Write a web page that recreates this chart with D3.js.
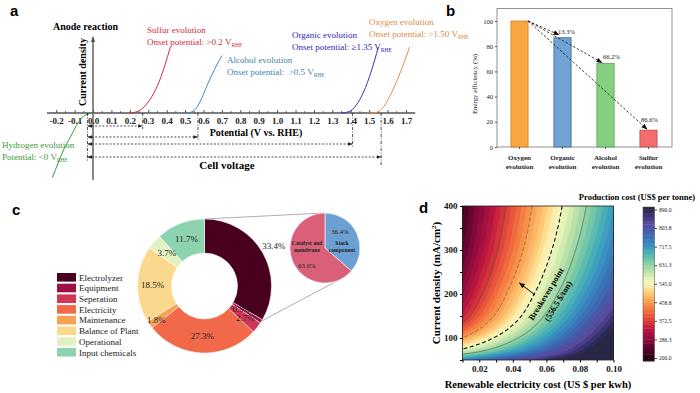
<!DOCTYPE html>
<html>
<head>
<meta charset="utf-8">
<title>Anode reactions - efficiency and cost</title>
<script src="https://cdn.jsdelivr.net/npm/d3@7/dist/d3.min.js"></script>
<style>
body { margin: 0; background: #fff; }
svg { font-family: "Liberation Serif", "Times New Roman", serif; }
.letter { font-family: "Liberation Sans", Arial, sans-serif; font-weight: bold; font-size: 15px; }
</style>
</head>
<body>
<svg id="fig" width="700" height="393"></svg>
<script>
// ---------- panel a : sketch of onset potentials
var potTicks = [-0.2, -0.1, 0.0, 0.1, 0.2, 0.3, 0.4, 0.5, 0.6, 0.7, 0.8, 0.9, 1.0, 1.1, 1.2, 1.3, 1.4, 1.5, 1.6, 1.7];
var sulfurCurve = [[0.20, 0], [0.24, 0.02], [0.28, 0.10], [0.32, 0.25], [0.36, 0.48], [0.39, 0.72], [0.42, 1.0]];
var alcoholCurve = [[0.50, 0], [0.53, 0.01], [0.56, 0.07], [0.59, 0.22], [0.62, 0.42], [0.66, 0.66], [0.70, 0.87]];
var organicCurve = [[1.35, 0], [1.39, 0.02], [1.43, 0.12], [1.47, 0.32], [1.51, 0.62], [1.55, 1.0]];
var oxygenCurve = [[1.50, 0], [1.54, 0.01], [1.58, 0.10], [1.62, 0.30], [1.66, 0.55], [1.69, 0.77], [1.72, 1.0]];
var hydrogenCurve = [[-0.22, -0.98], [-0.19, -0.76], [-0.16, -0.56], [-0.12, -0.35], [-0.09, -0.19], [-0.06, -0.07], [-0.03, -0.02], [0, 0]];
var reactionNames = ["Sulfur evolution", "Alcohol evolution", "Organic evolution", "Oxygen evolution", "Hydrogen evolution"];
var onsetTexts = ["Onset potential: >0.2 ", "Onset potential:  >0.5 ", "Onset potential: \u22651.35 ", "Onset potential: >1.50 ", "Potential: <0 "];
var cellStart = -0.03;
var cellEnds = [0.27, 0.57, 1.41, 1.565];

// ---------- panel b : energy efficiency
var effCats = ["Oxygen", "Organic", "Alcohol", "Sulfur"];
var effValues = [100, 86.7, 66.2, 13.4];
var effLabels = [null, "13.3%", "66.2%", "86.6%"];
var effTicks = [0, 20, 40, 60, 80, 100];

// ---------- panel c : cost breakdown
var costItems = ["Electrolyzer", "Equipment", "Seperation", "Electricity", "Maintenance", "Balance of Plant", "Operational", "Input chemicals"];
var costShares = [33.4, 0.9, 2.7, 27.3, 1.8, 18.5, 3.7, 11.7];
var stackItems = ["Stack component", "Catalyst and membrane"];
var stackShares = [36.4, 63.6];

// ---------- panel d : production cost map
var elecCost = [0.01, 0.02, 0.03, 0.04, 0.05, 0.06, 0.07, 0.08, 0.09, 0.10];
var currDens = [50, 60, 75, 85, 100, 125, 150, 200, 250, 300, 350, 400];
var prodCost = [
  [740, 767, 794, 822, 849, 876, 903, 930, 958, 985],
  [655, 689, 724, 758, 793, 827, 861, 896, 930, 965],
  [556, 600, 644, 687, 731, 775, 819, 863, 906, 950],
  [515, 562, 609, 657, 704, 751, 798, 846, 893, 940],
  [460, 513, 566, 617, 667, 718, 768, 819, 870, 920],
  [390, 448, 507, 565, 618, 673, 727, 781, 836, 890],
  [345, 406, 466, 527, 585, 640, 695, 750, 805, 860],
  [300, 361, 421, 482, 542, 597, 650, 703, 757, 810],
  [272, 331, 389, 448, 507, 564, 617, 670, 722, 775],
  [250, 308, 366, 423, 481, 539, 593, 645, 698, 750],
  [238, 294, 351, 407, 463, 520, 574, 626, 678, 730],
  [229, 284, 339, 395, 450, 505, 560, 612, 663, 715]
];
var elecTicks = [0.02, 0.04, 0.06, 0.08, 0.10];
var densTicks = [100, 200, 300, 400];
var costTicks = [200.0, 286.3, 372.5, 458.8, 545.0, 631.3, 717.5, 803.8, 890.0];
var isoLevels = [372.5, 458.8, 556.5, 631.3, 717.5];
var breakeven = 556.5;

var svg = d3.select("#fig");
var defs = svg.append("defs");

function marker(id, color, size) {
  defs.append("marker").attr("id", id)
    .attr("viewBox", "0 0 10 10").attr("refX", 9).attr("refY", 5)
    .attr("markerWidth", size).attr("markerHeight", size)
    .attr("markerUnits", "userSpaceOnUse")
    .attr("orient", "auto-start-reverse")
    .append("path").attr("d", "M0,1L10,5L0,9z").attr("fill", color);
}
marker("ahA", "#222", 4.5);
marker("ahAxis", "#555", 6);
marker("ahB", "#111", 6);
marker("ahD", "#000", 6);

function vrhe(sel, prefix, size) {
  sel.append("tspan").text(prefix + "V");
  sel.append("tspan").attr("font-size", size).attr("dy", 2).text("RHE");
}

// ================= panel a
var xA = d3.scaleLinear().domain([0, 1.7]).range([93, 406]);
var yA = d3.scaleLinear().domain([0, 1]).range([113, 47]);
var gA = svg.append("g");

gA.append("line")
  .attr("x1", xA(-0.25)).attr("x2", xA(1.75))
  .attr("y1", yA(0)).attr("y2", yA(0))
  .attr("stroke", "#555").attr("stroke-width", 1.4);
gA.append("line")
  .attr("x1", xA(0)).attr("x2", xA(0))
  .attr("y1", 180).attr("y2", 37)
  .attr("stroke", "#555").attr("stroke-width", 1.4)
  .attr("marker-end", "url(#ahAxis)");

gA.append("g")
  .attr("transform", `translate(0,${yA(0)})`)
  .call(d3.axisBottom(xA).tickValues(potTicks).tickSizeInner(-3).tickSizeOuter(0).tickPadding(5)
    .tickFormat(d => d.toFixed(1)))
  .call(g => g.select(".domain").remove())
  .call(g => g.selectAll("line").attr("stroke", "#555"))
  .call(g => g.selectAll("text")
    .attr("font-family", "Liberation Serif, serif").attr("font-size", 9)
    .attr("font-weight", "bold").attr("fill", "#222"));

gA.append("g")
  .selectAll("line")
  .data(potTicks.slice(0, -1))
  .join("line")
  .attr("x1", d => xA(d + 0.05)).attr("x2", d => xA(d + 0.05))
  .attr("y1", yA(0)).attr("y2", yA(0) - 1.8)
  .attr("stroke", "#555");

var curveSets = [sulfurCurve, alcoholCurve, organicCurve, oxygenCurve, hydrogenCurve];
var curveColors = ["#d8283c", "#4a86b6", "#3434c4", "#e98b45", "#3c9a3c"];
var textColors = ["#d42a3a", "#3f7fae", "#2a2ab8", "#e4873e", "#3a9a3a"];
var labelPos = [[147, 33], [227, 63], [292, 38], [369, 25], [2, 148]];

var lineA = d3.line().x(d => xA(d[0])).y(d => yA(d[1])).curve(d3.curveMonotoneX);
gA.selectAll("path.curve")
  .data(curveSets)
  .join("path")
  .attr("class", "curve")
  .attr("d", lineA)
  .attr("fill", "none")
  .attr("stroke", (d, i) => curveColors[i])
  .attr("stroke-width", 1);

reactionNames.forEach(function(name, i) {
  gA.append("text")
    .attr("x", labelPos[i][0]).attr("y", labelPos[i][1])
    .attr("font-size", 9).attr("fill", textColors[i])
    .text(name);
  var t = gA.append("text")
    .attr("x", labelPos[i][0]).attr("y", labelPos[i][1] + 12)
    .attr("font-size", 9).attr("fill", textColors[i])
    .attr("xml:space", "preserve");
  vrhe(t, onsetTexts[i], 5.5);
});

// cell voltage arrows
var arrowY = [126, 137, 144, 157];
var dropY = [3, 3, 4, 9];
gA.append("line")
  .attr("x1", xA(cellStart)).attr("x2", xA(cellStart))
  .attr("y1", yA(0)).attr("y2", 161)
  .attr("stroke", "#222").attr("stroke-width", 0.8).attr("stroke-dasharray", "3,1.5,1,1.5");
cellEnds.forEach(function(v, i) {
  gA.append("line")
    .attr("x1", xA(cellStart) + 0.5).attr("x2", xA(v) - 0.5)
    .attr("y1", arrowY[i]).attr("y2", arrowY[i])
    .attr("stroke", "#222").attr("stroke-width", 0.8).attr("stroke-dasharray", "2,1.6")
    .attr("marker-start", "url(#ahA)").attr("marker-end", "url(#ahA)");
  gA.append("line")
    .attr("x1", xA(v)).attr("x2", xA(v))
    .attr("y1", yA(0)).attr("y2", arrowY[i] + dropY[i])
    .attr("stroke", "#222").attr("stroke-width", 0.8).attr("stroke-dasharray", "3,1.5,1,1.5");
});

gA.append("text").attr("x", 53).attr("y", 30)
  .attr("font-size", 10).attr("font-weight", "bold").text("Anode reaction");
gA.append("text").attr("transform", "translate(86,72) rotate(-90)")
  .attr("text-anchor", "middle").attr("font-size", 10).attr("font-weight", "bold")
  .text("Current density");
gA.append("text").attr("x", 256).attr("y", 135.5).attr("text-anchor", "middle")
  .attr("font-size", 10).attr("font-weight", "bold").text("Potential (V vs. RHE)");
gA.append("text").attr("x", 227).attr("y", 169).attr("text-anchor", "middle")
  .attr("font-size", 11).attr("font-weight", "bold").text("Cell voltage");

// ================= panel b
var xB = d3.scaleBand().domain(effCats).range([498, 670]).paddingInner(0.6).paddingOuter(0.3);
var yB = d3.scaleLinear().domain([0, 110]).range([147, 8.4]);
var gB = svg.append("g");
var barFill = ["#f9a541", "#6ea3d4", "#86cf80", "#f46c6c"];
var barLine = ["#c07a24", "#2f5a86", "#4a9648", "#b84444"];

gB.append("rect").attr("x", 497).attr("y", 8.4).attr("width", 175).attr("height", 147 - 8.4)
  .attr("fill", "none").attr("stroke", "#777").attr("stroke-width", 0.8);

gB.selectAll("rect.bar")
  .data(effValues)
  .join("rect")
  .attr("class", "bar")
  .attr("x", (d, i) => xB(effCats[i]))
  .attr("y", d => yB(d))
  .attr("width", xB.bandwidth())
  .attr("height", d => yB(0) - yB(d))
  .attr("fill", (d, i) => barFill[i])
  .attr("stroke", (d, i) => barLine[i])
  .attr("stroke-width", 0.7);

gB.append("g").attr("transform", "translate(497,0)")
  .call(d3.axisLeft(yB).tickValues(effTicks).tickSize(2).tickPadding(2).tickSizeOuter(0))
  .call(g => g.select(".domain").remove())
  .call(g => g.selectAll("line").attr("stroke", "#555"))
  .call(g => g.selectAll("text").attr("font-family", "Liberation Serif, serif").attr("font-size", 6.5).attr("fill", "#222"));

gB.append("g").attr("transform", "translate(0,147)")
  .call(d3.axisBottom(xB).tickSize(2).tickFormat(""))
  .call(g => g.select(".domain").remove())
  .call(g => g.selectAll("line").attr("stroke", "#555"));

effCats.forEach(function(c, i) {
  var cx = xB(c) + xB.bandwidth() / 2;
  gB.append("text").attr("x", cx).attr("y", 160).attr("text-anchor", "middle")
    .attr("font-size", 7).attr("font-weight", "bold").attr("fill", "#222").text(c);
  gB.append("text").attr("x", cx).attr("y", 168.5).attr("text-anchor", "middle")
    .attr("font-size", 7).attr("font-weight", "bold").attr("fill", "#222").text("evolution");
});

gB.append("text").attr("transform", "translate(477,84) rotate(-90)")
  .attr("text-anchor", "middle").attr("font-size", 6.8).attr("fill", "#222")
  .text("Energy efficiency (%)");

var labDx = [0, 4, 6, 1];
var labDy = [0, -4, -4.6, -8.5];
var tipDx = [0, 5, 5, 7];
var tipDy = [0, -3, -1, -1];
effValues.forEach(function(v, i) {
  if (i === 0) return;
  var x0 = xB(effCats[i]);
  gB.append("line")
    .attr("x1", xB(effCats[0]) + xB.bandwidth()).attr("y1", yB(effValues[0]))
    .attr("x2", x0 + tipDx[i]).attr("y2", yB(v) + tipDy[i])
    .attr("stroke", "#111").attr("stroke-width", 0.8).attr("stroke-dasharray", "2.5,1.8")
    .attr("marker-end", "url(#ahB)");
  gB.append("text")
    .attr("x", x0 + xB.bandwidth() / 2 + labDx[i]).attr("y", yB(v) + labDy[i])
    .attr("text-anchor", "middle").attr("font-size", 6.5).attr("fill", "#222")
    .text(effLabels[i]);
});

// ================= panel c
var costColors = ["#49001f", "#9d0f47", "#d03656", "#f2694a", "#f9a153", "#fad98f", "#e2f1c2", "#8dd3b0"];
var labelR = [80, 44, 52, 50, 59, 52, 50, 50];
var cx = 204.5, cy = 286;
var gC = svg.append("g").attr("transform", `translate(${cx},${cy})`);
var pieC = d3.pie().sort(null).value(d => d)(costShares);
var arcC = d3.arc().innerRadius(33).outerRadius(67);

function polar(a, r) { return [r * Math.sin(a), -r * Math.cos(a)]; }

gC.selectAll("path")
  .data(pieC)
  .join("path")
  .attr("d", arcC)
  .attr("fill", (d, i) => costColors[i])
  .attr("stroke", "#fff").attr("stroke-width", 0.5);

gC.selectAll("text")
  .data(pieC)
  .join("text")
  .attr("transform", function(d, i) {
    var p = polar((d.startAngle + d.endAngle) / 2, labelR[i]);
    return `translate(${p[0]},${p[1]})`;
  })
  .attr("text-anchor", "middle").attr("dy", "0.35em")
  .attr("font-size", 9).attr("fill", "#222")
  .text(d => d.data.toFixed(1) + "%");

// zoom-in pie
var px = 325, py = 248, pr = 35;
var pieS = d3.pie().sort(null).value(d => d)(stackShares);
var a0 = polar(0, 67), a1 = polar(pieC[0].endAngle + 0.02, 67);
var b0 = polar(-0.05, pr), b1 = polar(2.53, pr);
svg.append("line").attr("x1", cx + a0[0]).attr("y1", cy + a0[1]).attr("x2", px + b0[0]).attr("y2", py + b0[1])
  .attr("stroke", "#999").attr("stroke-width", 0.8);
svg.append("line").attr("x1", cx + a1[0]).attr("y1", cy + a1[1]).attr("x2", px + b1[0]).attr("y2", py + b1[1])
  .attr("stroke", "#999").attr("stroke-width", 0.8);

var gS = svg.append("g").attr("transform", `translate(${px},${py})`);
gS.selectAll("path")
  .data(pieS)
  .join("path")
  .attr("d", d3.arc().innerRadius(0).outerRadius(pr))
  .attr("fill", (d, i) => ["#6c9fd2", "#da6079"][i])
  .attr("stroke", "#fff").attr("stroke-width", 0.6);

gS.append("text").attr("x", 15).attr("y", -14).attr("text-anchor", "middle")
  .attr("font-size", 6.8).attr("fill", "#222").text(stackShares[0].toFixed(1) + "%");
gS.append("text").attr("x", 17).attr("y", -3).attr("text-anchor", "middle")
  .attr("font-size", 5.6).attr("font-weight", "bold").attr("fill", "#222").text("Stack");
gS.append("text").attr("x", 17).attr("y", 4).attr("text-anchor", "middle")
  .attr("font-size", 5.6).attr("font-weight", "bold").attr("fill", "#222").text("component");
gS.append("text").attr("x", -18).attr("y", -3).attr("text-anchor", "middle")
  .attr("font-size", 5.6).attr("font-weight", "bold").attr("fill", "#222").text("Catalyst and");
gS.append("text").attr("x", -18).attr("y", 4).attr("text-anchor", "middle")
  .attr("font-size", 5.6).attr("font-weight", "bold").attr("fill", "#222").text("membrane");
gS.append("text").attr("x", -18).attr("y", 20).attr("text-anchor", "middle")
  .attr("font-size", 6.8).attr("fill", "#222").text(stackShares[1].toFixed(1) + "%");

// legend
var gL = svg.append("g").attr("transform", "translate(57,273)");
costItems.forEach(function(name, i) {
  gL.append("rect").attr("x", 0).attr("y", i * 10.7).attr("width", 19).attr("height", 8.6)
    .attr("fill", costColors[i]);
  gL.append("text").attr("x", 22).attr("y", i * 10.7 + 7.6)
    .attr("font-size", 9).attr("fill", "#222").text(name);
});

// ================= panel d
var xD = d3.scaleLinear().domain([0.01, 0.10]).range([462.5, 613.5]);
var yD = d3.scaleLinear().domain([50, 400]).range([360, 206]);

var cStops = [200, 240, 286, 330, 372, 415, 458, 500, 530, 545, 575, 610, 650, 690, 717, 760, 800, 830, 860, 890];
var cCols = ["#24000e", "#4d0226", "#8a0a3e", "#b8153f", "#dc3a3a", "#f06a3c", "#f99a4c", "#fdc775", "#fde9a0", "#fbf8c0",
  "#e2f2b4", "#b4e0a6", "#7ccaa6", "#48b1b4", "#3a98c2", "#3a74b6", "#4a58a8", "#5a4a9e", "#3e3478", "#282844"];
var colorD = d3.scaleLinear().domain(cStops).range(cCols).clamp(true);

function rowBracket(j) {
  var r = d3.bisectRight(currDens, j) - 1;
  return Math.max(0, Math.min(currDens.length - 2, r));
}
function colBracket(e) {
  var c = d3.bisectRight(elecCost, e) - 1;
  return Math.max(0, Math.min(elecCost.length - 2, c));
}
// bilinear in (e, 1/j)
function costAt(e, j) {
  var r = rowBracket(j), c = colBracket(e);
  var t = (1 / j - 1 / currDens[r]) / (1 / currDens[r + 1] - 1 / currDens[r]);
  var s = (e - elecCost[c]) / (elecCost[c + 1] - elecCost[c]);
  var a = prodCost[r][c] * (1 - s) + prodCost[r][c + 1] * s;
  var b = prodCost[r + 1][c] * (1 - s) + prodCost[r + 1][c + 1] * s;
  return a * (1 - t) + b * t;
}

var nx = 152, ny = 155;
var field = new Array(nx * ny);
for (var gy = 0; gy < ny; gy++) {
  var jj = 400 - 350 * gy / (ny - 1);
  for (var gx = 0; gx < nx; gx++) {
    field[gy * nx + gx] = costAt(0.01 + 0.09 * gx / (nx - 1), jj);
  }
}
var step = (890 - 200) / 40;
var thr = d3.range(40).map(i => 200 + i * step).concat([890]);
var bands = d3.contours().size([nx, ny]).thresholds(thr)(field);
var proj = d3.geoTransform({
  point: function(x, y) {
    this.stream.point(xD(0.01 + 0.09 * (x - 0.5) / (nx - 1)), yD(400 - 350 * (y - 0.5) / (ny - 1)));
  }
});
var pathD = d3.geoPath(proj);

defs.append("clipPath").attr("id", "clipD").append("rect")
  .attr("x", xD(0.01)).attr("y", yD(400)).attr("width", xD(0.10) - xD(0.01)).attr("height", yD(50) - yD(400));

var gD = svg.append("g");
var gMap = gD.append("g").attr("clip-path", "url(#clipD)");
gMap.append("rect").attr("x", xD(0.01)).attr("y", yD(400)).attr("width", xD(0.10) - xD(0.01)).attr("height", yD(50) - yD(400))
  .attr("fill", colorD(200));
gMap.selectAll("path")
  .data(bands)
  .join("path")
  .attr("d", pathD)
  .attr("fill", d => colorD(Math.min(d.value + step / 2, 890)))
  .attr("stroke", d => colorD(Math.min(d.value + step / 2, 890)))
  .attr("stroke-width", 0.3);

// isolines: for each current density find where the row crosses the level
function rowCross(j, level) {
  var vals = elecCost.map(e => costAt(e, j));
  if (level < vals[0] || level > vals[vals.length - 1]) return null;
  for (var c = 0; c < vals.length - 1; c++) {
    if (vals[c] <= level && level <= vals[c + 1]) {
      return elecCost[c] + (level - vals[c]) / (vals[c + 1] - vals[c]) * (elecCost[c + 1] - elecCost[c]);
    }
  }
  return null;
}
var isoStyle = {
  372.5: {c: "#555", w: 0.6, d: null},
  458.8: {c: "#555", w: 0.6, d: "4,2"},
  556.5: {c: "#111", w: 1.1, d: "4,2.5"},
  631.3: {c: "#555", w: 0.6, d: null},
  717.5: {c: "#555", w: 0.6, d: "4,2"}
};
var lineD = d3.line().x(d => xD(d[0])).y(d => yD(d[1]));
isoLevels.forEach(function(level) {
  var pts = [];
  var prevJ = null;
  for (var j = 400; j >= 50; j -= 0.5) {
    var e = rowCross(j, level);
    if (e === null) {
      if (prevJ !== null && costAt(0.01, j) > level) {
        var v0 = costAt(0.01, prevJ), v1 = costAt(0.01, j);
        pts.push([0.01, prevJ + (level - v0) / (v1 - v0) * (j - prevJ)]);
      }
      break;
    }
    pts.push([e, j]);
    prevJ = j;
  }
  var st = isoStyle[level];
  gMap.append("path").attr("d", lineD(pts)).attr("fill", "none")
    .attr("stroke", st.c).attr("stroke-width", st.w)
    .attr("stroke-dasharray", st.d);
});

gD.append("rect").attr("x", xD(0.01)).attr("y", yD(400)).attr("width", xD(0.10) - xD(0.01)).attr("height", yD(50) - yD(400))
  .attr("fill", "none").attr("stroke", "#222").attr("stroke-width", 0.8);

gD.append("g").attr("transform", `translate(0,${yD(50)})`)
  .call(d3.axisBottom(xD).tickValues(elecCost).tickSize(2.5).tickFormat(""))
  .call(g => g.select(".domain").remove());
gD.append("g").attr("transform", `translate(0,${yD(50)})`)
  .call(d3.axisBottom(xD).tickValues(elecTicks).tickSize(0).tickPadding(6).tickFormat(d => d.toFixed(2)))
  .call(g => g.select(".domain").remove())
  .call(g => g.selectAll("text").attr("font-family", "Liberation Serif, serif").attr("font-size", 9)
    .attr("font-weight", "bold").attr("fill", "#111"));
gD.append("g").attr("transform", `translate(${xD(0.01)},0)`)
  .call(d3.axisLeft(yD).tickValues([50, 100, 150, 200, 250, 300, 350, 400]).tickSize(2.5).tickFormat(""))
  .call(g => g.select(".domain").remove());
gD.append("g").attr("transform", `translate(${xD(0.01)},0)`)
  .call(d3.axisLeft(yD).tickValues(densTicks).tickSize(0).tickPadding(5))
  .call(g => g.select(".domain").remove())
  .call(g => g.selectAll("text").attr("font-family", "Liberation Serif, serif").attr("font-size", 9)
    .attr("font-weight", "bold").attr("fill", "#111"));

gD.append("text").attr("x", 538).attr("y", 388).attr("text-anchor", "middle")
  .attr("font-size", 10.5).attr("font-weight", "bold").text("Renewable electricity cost (US $ per kwh)");
var yt = gD.append("text").attr("transform", "translate(440,283) rotate(-90)")
  .attr("text-anchor", "middle").attr("font-size", 11).attr("font-weight", "bold");
yt.append("tspan").text("Current density (mA/cm");
yt.append("tspan").attr("font-size", 7).attr("dy", -4).text("2");
yt.append("tspan").attr("dy", 4).text(")");

gD.append("text").attr("transform", "translate(546,294) rotate(-58.5)")
  .attr("text-anchor", "middle").attr("dy", "0.35em")
  .attr("font-size", 8.5).attr("font-weight", "bold").text("Breakeven point");
gD.append("text").attr("transform", "translate(558,301) rotate(-58.5)")
  .attr("text-anchor", "middle").attr("dy", "0.35em")
  .attr("font-size", 8.5).attr("font-weight", "bold").text("(" + breakeven + " $/ton)");
gD.append("line").attr("x1", 535).attr("y1", 295).attr("x2", 519.5).attr("y2", 283)
  .attr("stroke", "#000").attr("stroke-width", 1).attr("marker-end", "url(#ahD)");

// colorbar
var yCb = d3.scaleLinear().domain([200, 890]).range([358, 209.5]);
var cbLo = yCb.invert(361), cbHi = yCb.invert(207);
var cbEdges = [cbLo].concat(thr.slice(1)).concat([cbHi]);
var gCb = gD.append("g");
gCb.selectAll("rect")
  .data(d3.range(cbEdges.length - 1))
  .join("rect")
  .attr("x", 643).attr("width", 11.5)
  .attr("y", i => yCb(cbEdges[i + 1]))
  .attr("height", i => yCb(cbEdges[i]) - yCb(cbEdges[i + 1]) + 0.4)
  .attr("fill", i => colorD(Math.min(thr[i] + step / 2, 890)));
gCb.append("rect").attr("x", 643).attr("y", 207).attr("width", 11.5).attr("height", 154)
  .attr("fill", "none").attr("stroke", "#444").attr("stroke-width", 0.5);
gCb.append("g").attr("transform", "translate(654.5,0)")
  .call(d3.axisRight(yCb).tickValues(costTicks).tickSize(2.5).tickPadding(2).tickFormat(d => d.toFixed(1)))
  .call(g => g.select(".domain").remove())
  .call(g => g.selectAll("line").attr("stroke", "#444"))
  .call(g => g.selectAll("text").attr("font-family", "Liberation Serif, serif").attr("font-size", 5.5).attr("fill", "#222"));
gCb.append("text").attr("x", 637).attr("y", 200).attr("text-anchor", "middle")
  .attr("font-size", 8.5).attr("font-weight", "bold").text("Production cost (US$ per tonne)");

// panel letters
svg.append("text").attr("class", "letter").attr("x", 10).attr("y", 16).text("a");
svg.append("text").attr("class", "letter").attr("x", 446).attr("y", 16).text("b");
svg.append("text").attr("class", "letter").attr("x", 12).attr("y", 215).text("c");
svg.append("text").attr("class", "letter").attr("x", 419).attr("y", 213).text("d");
</script>
</body>
</html>
